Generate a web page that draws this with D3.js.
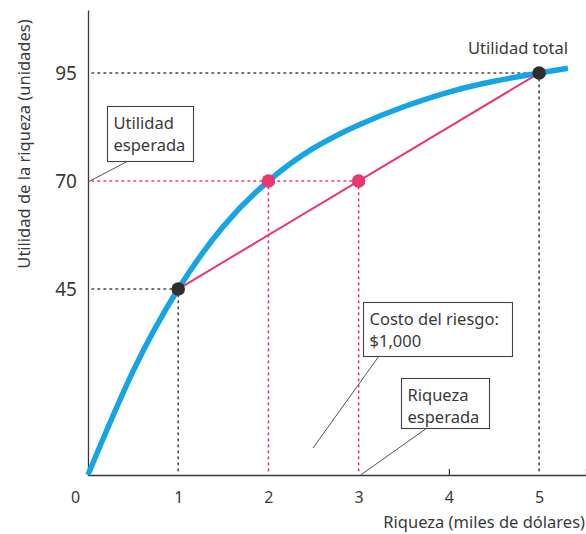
<!DOCTYPE html>
<html><head><meta charset="utf-8">
<script src="https://cdn.jsdelivr.net/npm/d3@7/dist/d3.min.js"></script>
<style>
body{margin:0;background:#fff}
svg{display:block}
text{font-family:"Noto Sans",sans-serif;fill:#3a3a3a}
</style>
</head><body>
<svg id="c" width="586" height="534"></svg>
<script>
// ---- data ----
const wealth  = [0, 0.5, 1, 1.5, 2, 2.5, 3, 3.5, 4, 4.5, 5, 5.32];
const utility = [2, 26, 45, 59.5, 70, 77.6, 83, 87.2, 90.6, 93.1, 95, 96.1];
const xTicks = [0, 1, 2, 3, 4, 5];
const yTicks = [45, 70, 95];
const pinkTicksX = [2, 3];
const pinkTicksY = [70];
const gamble = [[1, 45], [5, 95]];          // black points, joined by chord
const expected = [[2, 70], [3, 70]];        // pink points
const xTitle = "Riqueza (miles de dólares)";
const yTitle = "Utilidad de la riqueza (unidades)";

const BLUE = "#17a4e4", PINK = "#e9386f", INK = "#3a3a3a", DOT = "#2e2e2e";

const svg = d3.select("#c");
const x = d3.scaleLinear().domain([0, 5.52]).range([88, 586]);
const y = d3.scaleLinear().domain([1.94, 109.6]).range([475, 10]);
const y0 = 1.94;

// dotted guide lines
const dotted = (x1, y1, x2, y2, c) => svg.append("line")
  .attr("x1", x1).attr("y1", y1).attr("x2", x2).attr("y2", y2)
  .attr("stroke", c).attr("stroke-width", 1.6).attr("stroke-dasharray", "1.6,4.4")
  .attr("stroke-linecap", "round");
// 95
dotted(x(0) + 4, y(95), x(5), y(95), "#444");
dotted(x(5), y(95), x(5), y(y0), "#444");
// 45
dotted(x(0) + 4, y(45), x(1), y(45), "#444");
dotted(x(1), y(45), x(1), y(y0), "#444");
// 70 (pink)
dotted(x(0) + 4, y(70), x(3), y(70), PINK);
dotted(x(2), y(70), x(2), y(y0), PINK);
dotted(x(3), y(70), x(3), y(y0), PINK);

// axes
const xAxis = svg.append("g").attr("transform", `translate(0,${y(y0)})`)
  .call(d3.axisBottom(x).tickValues(xTicks).tickSize(-6).tickPadding(17).tickFormat(d3.format("d")));
xAxis.select(".domain").attr("stroke", INK).attr("stroke-width", 1.3);
xAxis.selectAll(".tick line").attr("stroke", INK).attr("stroke-width", 1.2)
  .attr("opacity", d => d === 4 ? 1 : 0);
xAxis.selectAll(".tick text").style("font-family", '"Noto Sans",sans-serif')
  .style("font-size", "16px").attr("fill", d => pinkTicksX.includes(d) ? PINK : INK)
  .attr("dy", "0.71em");
xAxis.selectAll(".tick").filter(d => d === 0).select("text").attr("x", -13);

const yAxis = svg.append("g").attr("transform", `translate(${x(0)},0)`)
  .call(d3.axisLeft(y).tickValues(yTicks).tickSize(0).tickPadding(11));
yAxis.select(".domain").attr("stroke", INK).attr("stroke-width", 1.3);
yAxis.selectAll(".tick text").style("font-family", '"Noto Sans",sans-serif')
  .style("font-size", "19px").attr("fill", d => pinkTicksY.includes(d) ? PINK : INK);

// utility curve
const pts = wealth.map((w, i) => [w, utility[i]]);
svg.append("path").datum(pts)
  .attr("d", d3.line().x(d => x(d[0])).y(d => y(d[1])).curve(d3.curveNatural))
  .attr("fill", "none").attr("stroke", BLUE).attr("stroke-width", 5.5).attr("stroke-linecap", "butt");

// chord
svg.append("line")
  .attr("x1", x(gamble[0][0])).attr("y1", y(gamble[0][1]))
  .attr("x2", x(gamble[1][0])).attr("y2", y(gamble[1][1]))
  .attr("stroke", PINK).attr("stroke-width", 2);

// points
svg.selectAll(".bp").data(gamble).join("circle")
  .attr("cx", d => x(d[0])).attr("cy", d => y(d[1])).attr("r", 6.8).attr("fill", DOT);
svg.selectAll(".pp").data(expected).join("circle")
  .attr("cx", d => x(d[0])).attr("cy", d => y(d[1])).attr("r", 6.8).attr("fill", PINK);

// axis titles
svg.append("text").attr("x", 585).attr("y", 528).attr("text-anchor", "end")
  .style("font-size", "16.5px").text(xTitle);
svg.append("text").attr("transform", "translate(30,144) rotate(-90)").attr("text-anchor", "middle")
  .style("font-size", "16.5px").text(yTitle);

// label "Utilidad total"
svg.append("text").attr("x", 568).attr("y", 54).attr("text-anchor", "end")
  .style("font-size", "16.5px").text("Utilidad total");

// annotation boxes
function box(bx, by, bw, bh, lines, lx1, ly1, lx2, ly2) {
  svg.append("line").attr("x1", lx1).attr("y1", ly1).attr("x2", lx2).attr("y2", ly2)
    .attr("stroke", "#555").attr("stroke-width", 1);
  svg.append("rect").attr("x", bx).attr("y", by).attr("width", bw).attr("height", bh)
    .attr("fill", "#fff").attr("stroke", "#444").attr("stroke-width", 1.1);
  lines.forEach((t, i) => svg.append("text").attr("x", bx + 6).attr("y", by + 22 + i * 22)
    .style("font-size", "16.5px").text(t));
}
box(107.5, 106.5, 86, 55, ["Utilidad", "esperada"], 128, 161, x(0), y(70) + 1);
box(363.5, 302.5, 149, 54, ["Costo del riesgo:", "$1,000"], 379, 356, 313, 448);
box(401.5, 378.5, 88, 50, ["Riqueza", "esperada"], 427, 428, x(3) + 2, y(y0));
</script>
</body></html>
